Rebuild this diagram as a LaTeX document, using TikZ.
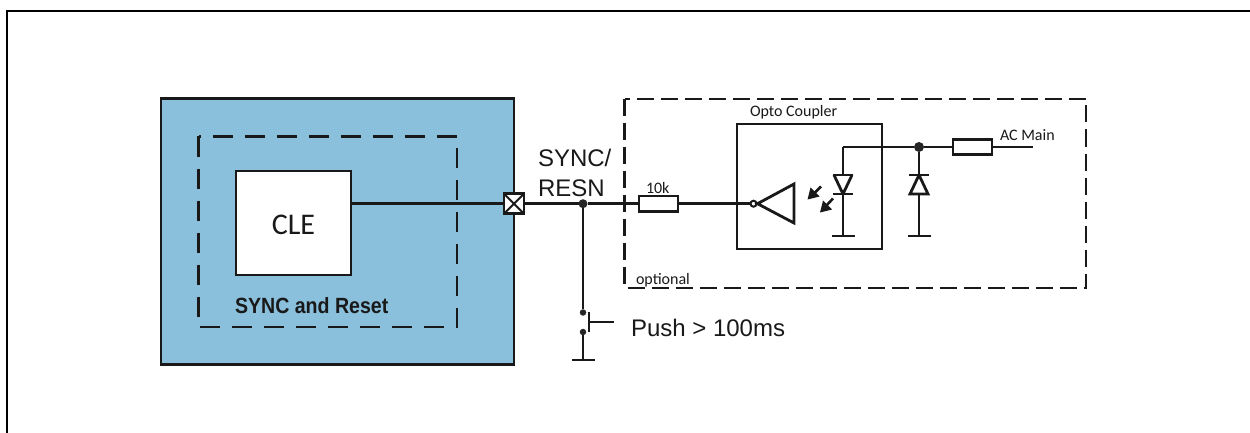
\documentclass[tikz,border=0pt]{standalone}
\usepackage{fontspec}
\setmainfont{Liberation Sans}
\newfontfamily\carl{Carlito}
\definecolor{blockblue}{HTML}{8AC0DC}
\begin{document}
\begin{tikzpicture}[x=1pt,y=-1pt,
  wire/.style={draw=black!90,line width=2.8pt},
  thin wire/.style={draw=black!90,line width=2.5pt},
  boxed/.style={draw=black!90,line width=2.8pt,inner sep=0pt,outer sep=0pt,rectangle},
  resistor/.style={boxed,fill=white,minimum width=39pt,minimum height=15.5pt},
  dashbox/.style={draw=black!90,line width=2.3pt,dash pattern=on #1},
  dot/.style={circle,fill=black!85,inner sep=0pt,outer sep=0pt,minimum size=#1},
  txt/.style={inner sep=0pt,outer sep=0pt,text=black!90},
  lbl/.style={txt,anchor=base west,font=\carl\fontsize{16}{16}\selectfont},
  big/.style={txt,anchor=base west,font=\fontsize{24}{24}\selectfont}]
\useasboundingbox (0,0) rectangle (1250,433);
\draw[black,line width=2.6pt] (6.8,433) -- (6.8,11) -- (1250,11);
% SoC block
\node[boxed,fill=blockblue,minimum width=353pt,minimum height=266pt,anchor=north west,line width=2.7pt] (soc) at (161,98.5) {};
\draw[dashbox={20pt off 12pt}] (198.5,136.5) rectangle (457,327);
\node[boxed,fill=white,minimum width=115pt,minimum height=104pt,anchor=north west] (cle) at (236,171) {};
\node[txt,font=\carl\fontsize{30}{30}\selectfont] (clet) at (293.5,224.5) {CLE};
\node[txt,anchor=base west,font=\bfseries\fontsize{22}{22}\selectfont] (sr) at (235,313.5) {\scalebox{.89}[1]{SYNC and Reset}};
% optional block
\draw[dashbox={17pt off 7pt}] (624.5,99) rectangle (1086,288);
\node[boxed,minimum width=145pt,minimum height=125pt,anchor=north west] (opto) at (737,124) {};
\node[lbl] (optot) at (750,117) {Opto Coupler};
\node[lbl] (optt) at (636,284) {optional};
\node[lbl] (tenk) at (646,193.5) {10k};
\node[lbl] (ac) at (1000,140) {AC Main};
\node[big] (sync) at (538,166.7) {SYNC/};
\node[big] (resn) at (538,196.5) {RESN};
\node[big] (push) at (631,336.3) {Push > 100ms};
% port, junctions
\node[boxed,fill=white,minimum size=20pt] (port) at (514,203.7) {};
\draw[line width=2pt,black!90] (port.north west) -- (port.south east) (port.north east) -- (port.south west);
\node[dot=9pt] (j1) at (583,203.7) {};
\node[dot=6.5pt] (sw1) at (583,312.5) {};
\node[dot=6.5pt] (sw2) at (583,332) {};
\coordinate (gnd1) at (583,360);
\node[resistor] (r1) at (658.5,203.7) {};
\node[circle,draw=black!90,line width=2pt,fill=white,inner sep=0pt,outer sep=0pt,minimum size=6pt] (bub) at (753.5,203.7) {};
\node[resistor] (r2) at (972.5,147) {};
\node[dot=10pt] (j2) at (919,147) {};
\coordinate (d1top) at (843,147);
\coordinate (d1gnd) at (843,236);
\coordinate (d2gnd) at (919,236);
\coordinate (acend) at (1033,147);
\coordinate (swbar) at (589,322);
\coordinate (pushend) at (614,322);
% wires
\draw[thin wire] (cle.east |- port) -- (port.west);
\draw[wire] (port.east) -- (j1) -- (r1.west);
\draw[wire] (r1.east) -- (bub.west);
\draw[wire] (j1) -- (sw1);
\draw[wire] (sw2) -- (gnd1);
\draw[wire] (572,360) -- (595,360);
\draw[wire] (589,312) -- (589,332);
\draw[wire] (swbar) -- (pushend);
\draw[wire] (bub.east) ++(1,0) -- (794,184) -- (794,223) -- cycle;
\draw[wire] (d1gnd) -- (843,194) (d1top) -- (j2) -- (r2.west);
\draw[wire] (d1top) -- (843,175);
\draw[wire] (r2.east) -- (acend);
\draw[wire] (833,175) -- (853,175);
\draw[wire,line join=miter] (834,175) -- (843,194) -- (852,175);
\draw[wire] (833,194) -- (853,194);
\draw[wire] (832,236) -- (855,236);
\draw[wire] (j2) -- (919,175);
\draw[wire] (909,175) -- (929,175);
\draw[wire,line join=miter] (919,175) -- (910,194) -- (928,194) -- cycle;
\draw[wire] (919,194) -- (d2gnd);
\draw[wire] (908,236) -- (931,236);
% light arrows
\draw[line width=2.6pt,black!90] (821,186.5) -- (813,194.5);
\fill[black!90] (807.5,199.5) -- (810.5,187.5) -- (819.5,196.5) -- cycle;
\draw[line width=2.6pt,black!90] (833,198.5) -- (825.5,206.5);
\fill[black!90] (820,212.5) -- (823,200.5) -- (832,209.5) -- cycle;
\end{tikzpicture}
\end{document}
